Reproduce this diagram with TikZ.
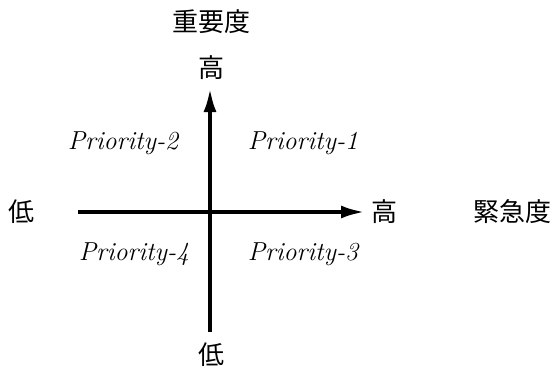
\documentclass[tikz,border=0pt]{standalone}
\usepackage{fontspec}
\newfontfamily\cjk{Noto Sans CJK JP}
\usetikzlibrary{arrows.meta}
\begin{document}
\begin{tikzpicture}[x=1pt,y=-1pt,
  jp/.style={font=\cjk\fontsize{26}{30}\selectfont, inner sep=0pt},
  prio/.style={font=\itshape\fontsize{26}{30}\selectfont, inner sep=0pt},
  axis/.style={line width=4pt, -{Latex[length=24pt,width=13pt]}}]
\useasboundingbox (0,0) rectangle (558,378);
\coordinate (vb) at (210,332);
\coordinate (vt) at (210,88);
\coordinate (hl) at (78,212);
\coordinate (hr) at (365,212);
\draw[axis] (vb) -- (vt);
\draw[axis] (hl) -- (hr);
\node[jp] (imp) at (211,22) {重要度};
\node[jp] (vhigh) at (211,68) {高};
\node[jp] (vlow) at (211,355) {低};
\node[jp] (hlow) at (22,212) {低};
\node[jp] (hhigh) at (384,212) {高};
\node[jp] (urg) at (512,212) {緊急度};
\node[prio] (p2) at (123,143) {Priority-2};
\node[prio] (p1) at (303,143) {Priority-1};
\node[prio] (p4) at (134,254) {Priority-4};
\node[prio] (p3) at (303,254) {Priority-3};
\end{tikzpicture}
\end{document}
